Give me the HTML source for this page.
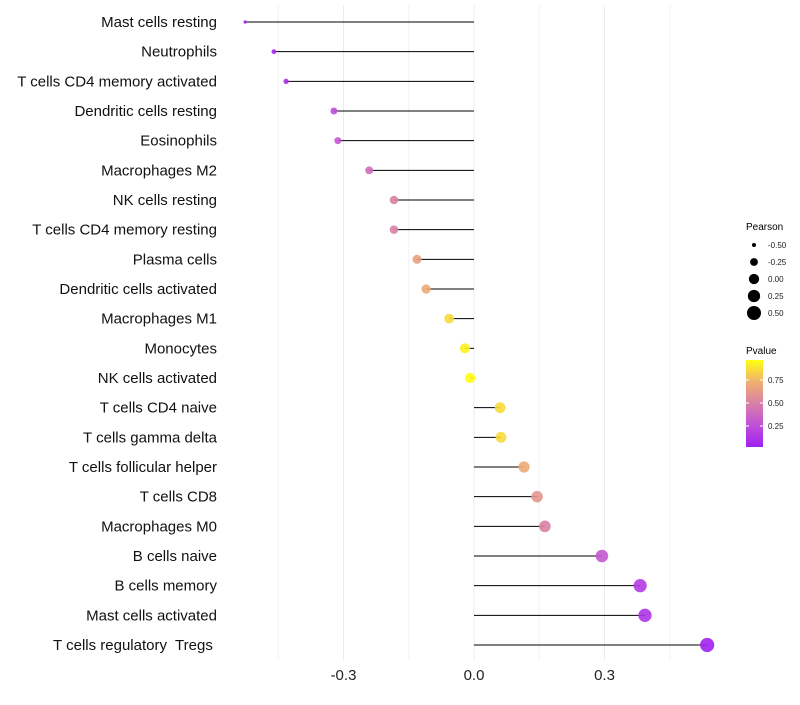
<!DOCTYPE html>
<html><head><meta charset="utf-8"><style>
body{margin:0;background:#fff;}
svg{font-family:"Liberation Sans",sans-serif;}
text{white-space:pre;}
</style></head><body>
<svg id="chart" width="800" height="700">
<defs><linearGradient id="pg" x1="0" y1="1" x2="0" y2="0">
<stop offset="0" stop-color="#a020f0"/><stop offset="0.25" stop-color="#c050d8"/><stop offset="0.5" stop-color="#d880a8"/><stop offset="0.75" stop-color="#f0b070"/><stop offset="1" stop-color="#ffff10"/></linearGradient></defs>
<g id="grid"></g><g id="marks"></g><g id="labels"></g>
<g id="legend">
<text x="746" y="230" font-size="10">Pearson</text>
<text x="746" y="354" font-size="10">Pvalue</text>
<rect x="746" y="360" width="17" height="87" fill="url(#pg)"/>
</g>
</svg>
<script>
const categories=["Mast cells resting","Neutrophils","T cells CD4 memory activated","Dendritic cells resting","Eosinophils","Macrophages M2","NK cells resting","T cells CD4 memory resting","Plasma cells","Dendritic cells activated","Macrophages M1","Monocytes","NK cells activated","T cells CD4 naive","T cells gamma delta","T cells follicular helper","T cells CD8","Macrophages M0","B cells naive","B cells memory","Mast cells activated","T cells regulatory  Tregs "];
const pearson=[-0.526,-0.46,-0.432,-0.322,-0.313,-0.241,-0.184,-0.184,-0.131,-0.11,-0.057,-0.021,-0.009,0.06,0.062,0.115,0.145,0.163,0.294,0.382,0.393,0.536];
const pvalue=[0.02,0.05,0.1,0.25,0.3,0.4,0.5,0.5,0.65,0.7,0.85,0.92,0.96,0.85,0.85,0.7,0.6,0.5,0.3,0.15,0.12,0.03];
const xTicks=[-0.3,0,0.3];
const xTickLabels=["-0.3","0.0","0.3"];
const xMinor=[-0.45,-0.15,0.15,0.45];
const sizeLegend=[-0.5,-0.25,0,0.25,0.5];
const sizeLegendLabels=["-0.50","-0.25","0.00","0.25","0.50"];
const colorTicks=[0.25,0.5,0.75];
const colorTickLabels=["0.25","0.50","0.75"];
const NS="http://www.w3.org/2000/svg";
const X=v=>474+v*435;
const Y=i=>22+i*(623/21);
const R=v=>Math.sqrt(Math.max(2,4+45*(v+0.5)));
const stops=[[0,[160,32,240]],[0.25,[192,80,216]],[0.5,[216,128,168]],[0.75,[240,176,112]],[1,[255,255,16]]];
function col(p){const t=Math.max(0,Math.min(1,(p-0.02)/0.94));for(let k=1;k<stops.length;k++){if(t<=stops[k][0]){const a=stops[k-1],b=stops[k],f=(t-a[0])/(b[0]-a[0]);return "rgb("+a[1].map((c,j)=>Math.round(c+(b[1][j]-c)*f)).join(",")+")";}}return "rgb(255,255,16)";}
function mk(tag,at,parent){const e=document.createElementNS(NS,tag);for(const k in at)e.setAttribute(k,at[k]);parent.appendChild(e);return e;}
const grid=document.getElementById('grid'),marks=document.getElementById('marks'),labels=document.getElementById('labels'),legend=document.getElementById('legend');
xMinor.forEach(v=>{const l=mk('line',{x1:X(v),x2:X(v),y1:5,y2:660,stroke:'#f2f2f2','stroke-width':1},grid);

});
xTicks.forEach((v,i)=>{const l=mk('line',{x1:X(v),x2:X(v),y1:5,y2:660,stroke:'#ebebeb','stroke-width':1},grid);


const t=mk('text',{x:X(v),y:680,'font-size':15,'text-anchor':'middle',fill:'#222'},labels);t.textContent=xTickLabels[i];

});
categories.forEach((c,i)=>{const y=Y(i);
const t=mk('text',{x:217,y:y+5,'font-size':15,'text-anchor':'end',fill:'#111'},labels);t.textContent=c;


const l=mk('line',{x1:X(0),x2:X(pearson[i]),y1:y,y2:y,stroke:'#000','stroke-width':1},marks);


const p=mk('circle',{cx:X(pearson[i]),cy:y,r:R(pearson[i]),fill:col(pvalue[i]),'fill-opacity':0.9},marks);

});
sizeLegend.forEach((v,i)=>{const y=245+i*17;
const c=mk('circle',{cx:754,cy:y,r:R(v),fill:'#000'},legend);


const t=mk('text',{x:768,y:y+3,'font-size':8,fill:'#222'},legend);t.textContent=sizeLegendLabels[i];

});
colorTicks.forEach((v,i)=>{const y=449-v*92;
const t=mk('text',{x:768,y:y+3,'font-size':8,fill:'#222'},legend);t.textContent=colorTickLabels[i];


mk('line',{x1:746,x2:749,y1:y,y2:y,stroke:'#fff'},legend);mk('line',{x1:760,x2:763,y1:y,y2:y,stroke:'#fff'},legend);});
</script>
</body></html>
